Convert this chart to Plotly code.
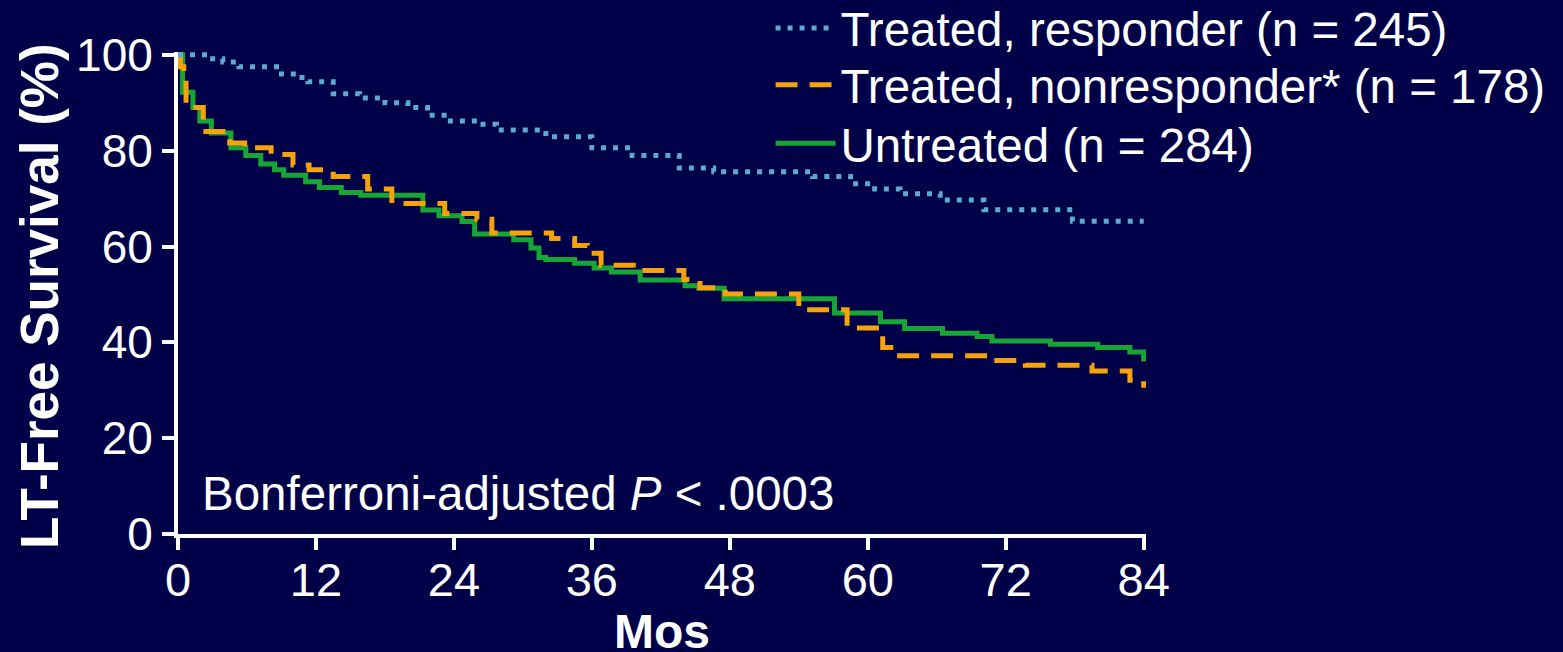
import plotly.graph_objects as go

# ---------------- data ----------------
x_ticks = [0, 12, 24, 36, 48, 60, 72, 84]
y_ticks = [0, 20, 40, 60, 80, 100]

resp_months = [0, 2.6, 3.9, 5.3, 9.0, 10.5, 11.3, 13.5, 15.8, 18.0, 20.0, 21.7,
               23.4, 26.0, 27.7, 32.0, 36.0, 39.5, 43.6, 46.6, 55.2, 58.5, 60.6,
               62.8, 66.3, 70.1, 77.8, 84]
resp_surv = [100, 99.2, 98.5, 97.5, 96.0, 95.3, 94.4, 91.9, 91.0, 90.0, 89.0, 87.4,
             86.2, 85.5, 84.3, 82.9, 80.6, 79.0, 76.4, 75.6, 74.6, 73.1, 72.0,
             71.0, 69.7, 67.7, 65.3, 65.3]

nonresp_months = [0, 0.2, 0.5, 0.7, 2.2, 4.5, 5.8, 8.1, 10.0, 11.4, 13.5, 16.5,
                  18.6, 23.2, 26.0, 27.3, 32.5, 34.5, 35.6, 36.8, 39.6, 44.0,
                  45.4, 47.6, 54.0, 58.2, 61.3, 62.5, 71.0, 73.7, 79.5, 82.8, 84]
nonresp_surv = [100, 97.5, 95.5, 89.0, 84.0, 81.6, 80.6, 79.2, 77.0, 76.0, 74.6, 72.0,
                69.0, 66.9, 65.7, 62.8, 61.7, 60.2, 58.6, 56.1, 55.0, 53.1,
                51.4, 50.1, 46.8, 43.0, 38.9, 37.2, 36.2, 35.2, 34.0, 32.1, 30.5]

untr_months = [0, 0.4, 1.3, 1.9, 2.9, 4.6, 5.9, 7.2, 8.4, 9.2, 11.1, 12.3, 14.2,
               15.9, 21.3, 22.7, 24.7, 25.8, 29.2, 30.7, 31.4, 32.0, 34.5, 36.2,
               37.7, 40.2, 44.1, 45.3, 47.5, 57.1, 61.1, 63.2, 66.5, 69.5, 70.8,
               75.9, 80.0, 82.8, 84]
untr_surv = [100, 92.2, 89.0, 86.2, 83.7, 80.6, 79.0, 77.2, 76.0, 74.9, 73.5, 72.3, 71.3,
             70.7, 67.6, 66.4, 65.2, 62.6, 61.4, 59.7, 57.7, 57.3, 56.5, 55.5,
             54.7, 53.0, 51.8, 51.3, 49.1, 46.1, 44.3, 42.9, 41.9, 41.2, 40.3,
             39.6, 38.9, 38.0, 36.0]

names = ["Treated, responder (n = 245)",
         "Treated, nonresponder* (n = 178)",
         "Untreated (n = 284)"]

x_title = "<b>Mos</b>"
y_title = "<b>LT-Free Survival (%)</b>"
note = "Bonferroni-adjusted <i>P</i> < .0003"

# ---------------- styling ----------------
BG = "#000048"
BLUE = "#5AAAD3"
ORANGE = "#F5A20C"
GREEN = "#17A535"
FONT = "Liberation Sans, Arial, Helvetica, sans-serif"

fig = go.Figure()

fig.add_trace(go.Scatter(
    x=untr_months, y=untr_surv, mode="lines", name=names[2],
    line=dict(shape="hv", color=GREEN, width=5), legend="legend3"))
fig.add_trace(go.Scatter(
    x=nonresp_months, y=nonresp_surv, mode="lines", name=names[1],
    line=dict(shape="hv", color=ORANGE, width=5, dash="22px,12px"), legend="legend2"))
fig.add_trace(go.Scatter(
    x=resp_months, y=resp_surv, mode="lines", name=names[0],
    line=dict(shape="hv", color=BLUE, width=5, dash="5px,7px"), legend="legend"))

leg_common = dict(xref="container", yref="container", x=0.493, xanchor="left",
                  yanchor="middle", bgcolor="rgba(0,0,0,0)", borderwidth=0,
                  itemwidth=60, font=dict(family=FONT, size=47.5, color="white"))

fig.update_layout(
    template="none",
    width=1563, height=652,
    paper_bgcolor=BG, plot_bgcolor=BG,
    margin=dict(l=178, r=417, t=52, b=118, autoexpand=False),
    font=dict(family=FONT, color="white", size=46),
    showlegend=True,
    legend=dict(y=0.957, **leg_common),
    legend2=dict(y=0.870, **leg_common),
    legend3=dict(y=0.780, **leg_common),
    xaxis=dict(range=[0, 84.2], tickvals=x_ticks, ticktext=[str(v) for v in x_ticks],
               ticks="outside", ticklen=12, tickwidth=4, tickcolor="white",
               showline=True, linewidth=4, linecolor="white",
               showgrid=False, zeroline=False, automargin=False,
               ticklabelstandoff=-10,
               tickfont=dict(family=FONT, size=47, color="white")),
    yaxis=dict(range=[0, 100.6], tickvals=y_ticks, ticktext=[str(v) for v in y_ticks],
               ticks="outside", ticklen=12, tickwidth=4, tickcolor="white",
               showline=True, linewidth=4, linecolor="white",
               showgrid=False, zeroline=False, automargin=False,
               tickfont=dict(family=FONT, size=46, color="white")),
    annotations=[
        dict(text=note, xref="paper", yref="paper", x=0.023, y=0.085,
             xanchor="left", yanchor="middle", showarrow=False,
             font=dict(family=FONT, size=47.5, color="white")),
        dict(text=x_title, xref="paper", yref="paper", x=0.5, y=-0.203,
             xanchor="center", yanchor="middle", showarrow=False,
             font=dict(family=FONT, size=48, color="white")),
        dict(text=y_title, xref="paper", yref="paper", x=-0.1425, y=0.494,
             xanchor="center", yanchor="middle", showarrow=False, textangle=-90,
             font=dict(family=FONT, size=53, color="white")),
    ],
)

fig.write_html("out.html")
